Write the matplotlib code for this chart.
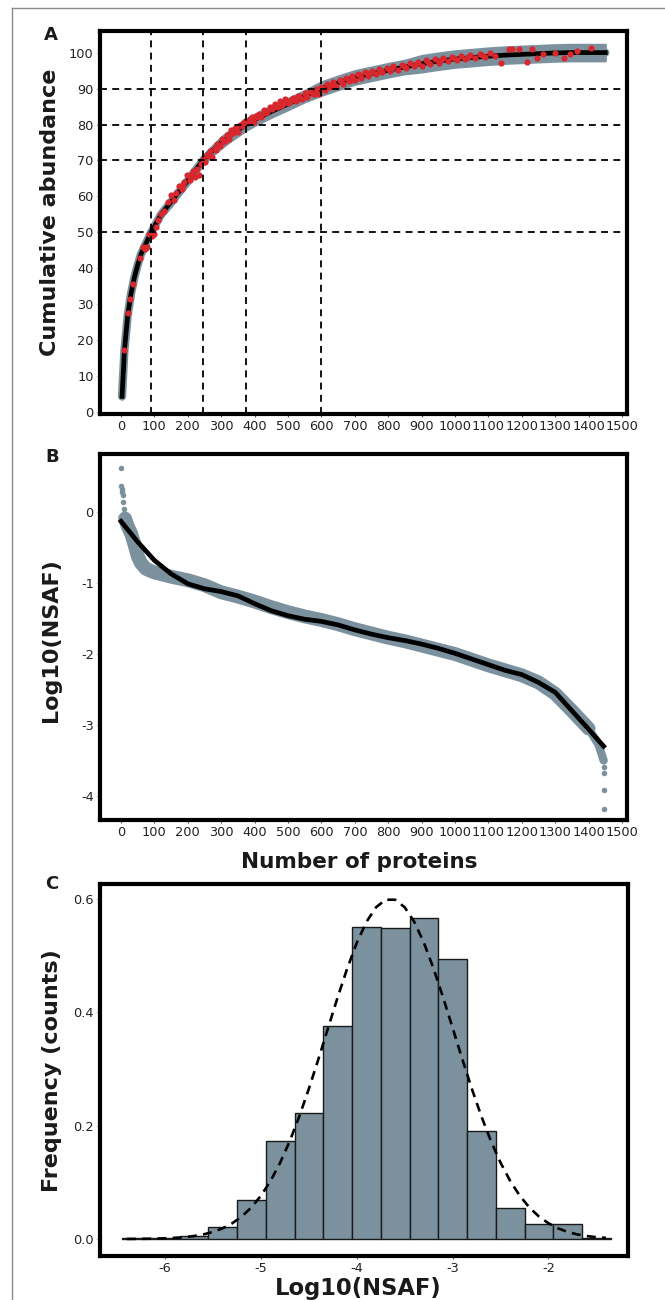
import numpy as np
import matplotlib.pyplot as plt
from matplotlib.lines import Line2D

plt.rcParams['font.family'] = 'DejaVu Sans'
plt.rcParams['axes.unicode_minus'] = False
plt.rcParams['lines.scale_dashes'] = False

# ---- panel A: cumulative abundance ----
a_x = [3, 10, 20, 30, 40, 50, 60, 75, 90, 105, 120, 150, 175, 200, 225, 245, 275, 300,
       325, 350, 375, 400, 450, 500, 550, 600, 650, 700, 750, 800, 850, 900, 950, 1000,
       1050, 1100, 1150, 1200, 1250, 1300, 1350, 1400, 1450]
a_fit = [4.4, 17, 27, 33, 37.5, 41, 44, 47, 50, 52.5, 55, 58.5, 61.5, 64.4, 67.5, 70, 72.8, 75,
         76.8, 78.4, 80, 81.3, 83.6, 85.7, 87.9, 90, 91.6, 93.1, 94.1, 95.1, 96, 96.9, 97.6, 98.2,
         98.6, 99, 99.3, 99.5, 99.7, 99.9, 100, 100, 100]
a_hi = [5.2, 17.8, 27.8, 33.8, 38.3, 41.8, 45.0, 48.0, 51.0, 53.5, 56.0, 59.8, 62.8, 65.7, 68.8,
        71.3, 74.1, 76.6, 78.4, 80.0, 81.6, 82.9, 85.2, 87.3, 89.5, 91.9, 93.5, 95.0, 96.0, 97.0,
        97.9, 99.2, 99.9, 100.5, 100.9, 101.3, 101.6, 101.8, 102.0, 102.2, 102.3, 102.3, 102.3]
a_lo = [3.6, 16.2, 26.2, 32.2, 36.7, 40.2, 43.0, 46.0, 49.0, 51.5, 54.0, 57.2, 60.2, 63.1, 66.2,
        68.7, 71.5, 73.4, 75.2, 76.8, 78.4, 79.7, 82.0, 84.1, 86.3, 88.1, 89.7, 91.2, 92.2, 93.2,
        94.1, 94.6, 95.3, 95.9, 96.3, 96.7, 97.0, 97.2, 97.4, 97.6, 97.7, 97.7, 97.7]
red_x = [9, 21, 27, 36, 57, 66, 72, 78, 85, 92, 98, 104, 112, 120, 128, 140, 150, 158, 165, 175,
         182, 190, 198, 205, 212, 220, 226, 232, 238, 244, 250, 258, 266, 272, 280, 288, 295, 302,
         310, 316, 322, 330, 336, 342, 350, 356, 362, 370, 378, 385, 392, 398, 405, 412, 420, 428,
         436, 445, 452, 460, 468, 476, 484, 492, 500, 508, 516, 525, 533, 541, 550, 558, 566, 575,
         583, 592, 600, 610, 618, 627, 636, 645, 655, 664, 673, 682, 692, 700, 710, 720, 730, 740,
         750, 762, 772, 782, 795, 805, 815, 828, 840, 852, 864, 876, 890, 902, 914, 926, 940, 952,
         965, 978, 992, 1005, 1018, 1030, 1045, 1060, 1075, 1090, 1105, 1120, 1137, 1161, 1170,
         1191, 1215, 1230, 1245, 1263, 1300, 1325, 1345, 1364, 1406,
         186, 216, 262, 284, 306, 326, 346, 366, 388, 408, 432, 456, 480, 505, 530, 555, 580, 605,
         632, 660, 688, 715, 745, 778, 810, 846, 882, 920, 958, 998, 1040, 1082]
red_y = [17.3, 27.5, 31.6, 35.7, 43, 46, 45.5, 46, 49.5, 49, 49.5, 51.5, 53.5, 55, 56, 58.5, 60.5,
         59, 61, 63, 62, 64, 66, 64.5, 66, 65.5, 67.5, 66, 69, 70.5, 69.5, 71.5, 72.5, 71, 73.5,
         74.5, 74, 76, 75.5, 77, 76, 78.5, 77.5, 79, 78, 80, 79.5, 81, 80.5, 81.5, 82, 80.8, 82.5,
         83, 82, 84, 83.5, 85, 84.2, 85.8, 84.8, 86.5, 85.6, 87, 86, 86.8, 87.5, 86.4, 88, 87.2,
         88.8, 87.6, 89.3, 88.6, 89.8, 88.4, 90.5, 89.6, 91.2, 90.4, 91.8, 90.8, 92.3, 91.4, 92.8,
         92, 93.4, 92.5, 94, 93, 94.5, 93.4, 95, 94, 95.4, 94.6, 95.8, 94.8, 96.2, 95.2, 96.6, 95.6,
         97, 96.2, 97.4, 96.4, 97.8, 96.8, 98.2, 97.2, 98.4, 97.6, 98.8, 97.8, 99, 98.2, 99.4, 98.6,
         99.6, 98.8, 99.8, 99, 97, 101, 101, 101, 97.3, 101, 98.4, 99.5, 99.8, 98.4, 99.6, 100.5,
         101.4,
         63.2, 67, 71.2, 73, 75, 77.4, 78.6, 80.4, 80.6, 82.2, 83.2, 85, 85.2, 86.2, 87.8, 88.2, 88.6,
         90, 91, 92, 92.4, 93.8, 94.4, 95, 95.6, 96.2, 96.8, 97.4, 98, 98.4, 98.8, 99.4]
a_hlines = [50, 70, 80, 90]
a_vlines = [90, 245, 375, 600]

# ---- panel B: log10(NSAF) by rank ----
b_x = [12, 20, 30, 40, 50, 60, 75, 100, 125, 150, 200, 250, 300, 350, 400, 450, 500, 550, 600,
       650, 700, 750, 800, 850, 900, 950, 1000, 1050, 1100, 1150, 1200, 1250, 1300, 1350, 1400,
       1430, 1445]
b_mid = [-0.09, -0.2, -0.3, -0.45, -0.62, -0.72, -0.8, -0.85, -0.88, -0.91, -0.96, -1.03, -1.13,
         -1.19, -1.26, -1.34, -1.41, -1.47, -1.52, -1.58, -1.65, -1.71, -1.77, -1.82, -1.88, -1.94,
         -2.0, -2.08, -2.16, -2.23, -2.3, -2.4, -2.56, -2.8, -3.05, -3.28, -3.5]
b_out_x = [0, 1, 2, 3, 5, 7, 9, 1446, 1447, 1447, 1447, 1447]
b_out_y = [0.62, 0.37, 0.33, 0.29, 0.24, 0.15, 0.05, -3.5, -3.59, -3.68, -3.92, -4.19]
bf_x = [0, 50, 100, 150, 200, 250, 300, 350, 400, 450, 500, 550, 600, 650, 700, 750, 800, 850,
        900, 950, 1000, 1050, 1100, 1150, 1200, 1250, 1300, 1350, 1400, 1445]
bf_y = [-0.13, -0.42, -0.68, -0.87, -1.01, -1.08, -1.12, -1.18, -1.29, -1.39, -1.46, -1.51, -1.54,
        -1.59, -1.66, -1.72, -1.77, -1.81, -1.86, -1.92, -1.99, -2.07, -2.15, -2.23, -2.29, -2.40,
        -2.54, -2.80, -3.06, -3.30]

# ---- panel C: histogram ----
c_edges = [-6.45, -6.15, -5.85, -5.55, -5.25, -4.95, -4.65, -4.35, -4.05, -3.75, -3.45, -3.15,
           -2.85, -2.55, -2.25, -1.95, -1.65, -1.35]
c_freq = [0.001, 0.001, 0.006, 0.021, 0.068, 0.173, 0.222, 0.376, 0.551, 0.549, 0.566, 0.494,
          0.190, 0.055, 0.026, 0.026, 0.002]
c_dens_x = np.round(np.arange(-6.4, -1.35, 0.1), 1)
c_dens_y = [0.0001, 0.0002, 0.0004, 0.0007, 0.0012, 0.002, 0.0032, 0.0052, 0.0081, 0.0125, 0.0188,
            0.0277, 0.0397, 0.0557, 0.0764, 0.1025, 0.1345, 0.1725, 0.2163, 0.2651, 0.3176, 0.3721,
            0.4262, 0.4772, 0.5224, 0.5591, 0.5849, 0.5983, 0.5983, 0.5849, 0.5591, 0.5224, 0.4772,
            0.4262, 0.3721, 0.3176, 0.2651, 0.2163, 0.1725, 0.1345, 0.1025, 0.0764, 0.0557, 0.0397,
            0.0277, 0.0188, 0.0125, 0.0081, 0.0052, 0.0032, 0.002]

GREY = '#7b929e'
RED = '#d9272e'
W, H = 665, 1300

fig = plt.figure(figsize=(6.65, 13.0), dpi=100)


def box(l, t, r, b):
    return [l / W, 1 - b / H, (r - l) / W, (b - t) / H]


def style(ax):
    for s in ax.spines.values():
        s.set_linewidth(3.0)
        s.set_color('black')
    ax.tick_params(direction='out', length=2.5, width=0.8, pad=2, labelsize=9.3,
                   colors='#555555', labelcolor='#222222')


# A
axA = fig.add_axes(box(100, 31, 627, 414))
axA.plot(a_x, a_fit, color=GREY, lw=6, solid_capstyle='round', zorder=1)
axA.fill_between(a_x, a_lo, a_hi, color=GREY, lw=1.5, edgecolor=GREY, zorder=1)
axA.plot(a_x, a_fit, color='black', lw=3.4, zorder=2)
axA.scatter(red_x, red_y, s=20, color=RED, lw=0, zorder=3)
for v in a_hlines:
    axA.axhline(v, color='black', lw=1.3, dashes=(5, 3.8), zorder=4)
for v in a_vlines:
    axA.axvline(v, color='black', lw=1.3, dashes=(5, 3.8), zorder=4)
axA.set_xlim(-63, 1515)
axA.set_ylim(-0.5, 106)
axA.set_xticks(range(0, 1501, 100))
axA.set_yticks(range(0, 101, 10))
style(axA)

# B
axB = fig.add_axes(box(100, 454, 627, 820))
axB.plot(b_x[:-2], b_mid[:-2], color=GREY, lw=10, solid_capstyle='round', zorder=1)
axB.plot(b_x[-3:], b_mid[-3:], color=GREY, lw=6, solid_capstyle='round', zorder=1)
axB.scatter(b_out_x, b_out_y, s=16, color=GREY, lw=0, zorder=1)
axB.plot(bf_x, bf_y, color='black', lw=3.4, zorder=3)
axB.set_xlim(-63, 1515)
axB.set_ylim(-4.34, 0.82)
axB.set_xticks(range(0, 1501, 100))
axB.set_yticks([0, -1, -2, -3, -4])
style(axB)

# C
axC = fig.add_axes(box(100, 884, 628, 1256))
axC.bar(c_edges[:-1], c_freq, width=np.diff(c_edges), align='edge', color=GREY,
        edgecolor='#1a1a1a', lw=1.0, zorder=1)
axC.plot(c_dens_x, c_dens_y, color='black', lw=1.9, dashes=(6.5, 4.5), zorder=3)
axC.set_xlim(-6.68, -1.17)
axC.set_ylim(-0.030, 0.626)
axC.set_xticks([-6, -5, -4, -3, -2])
axC.set_yticks([0.0, 0.2, 0.4, 0.6])
axC.set_yticklabels(['0.0', '0.2', '0.4', '0.6'])
style(axC)

# labels
bold = dict(fontweight='bold', color='#1a1a1a', ha='center', va='center')
fig.text(50 / W, 1 - 212 / H, 'Cumulative abundance', rotation=90, fontsize=16, **bold)
fig.text(51 / W, 1 - 640 / H, 'Log10(NSAF)', rotation=90, fontsize=16, **bold)
fig.text(52 / W, 1 - 1071 / H, 'Frequency (counts)', rotation=90, fontsize=16, **bold)
fig.text(359 / W, 1 - 862 / H, 'Number of proteins', fontsize=15.5, **bold)
fig.text(358 / W, 1 - 1288 / H, 'Log10(NSAF)', fontsize=16.3, **bold)
fig.text(51 / W, 1 - 35 / H, 'A', fontsize=13, **bold)
fig.text(52 / W, 1 - 457 / H, 'B', fontsize=13, **bold)
fig.text(52 / W, 1 - 884 / H, 'C', fontsize=13, **bold)

# page frame
fig.add_artist(Line2D([12 / W, 12 / W], [0, 1 - 8 / H], color='#8c8c8c', lw=1.0))
fig.add_artist(Line2D([12 / W, 1], [1 - 8 / H, 1 - 8 / H], color='#8c8c8c', lw=1.0))

fig.savefig('out.png', dpi=100)
